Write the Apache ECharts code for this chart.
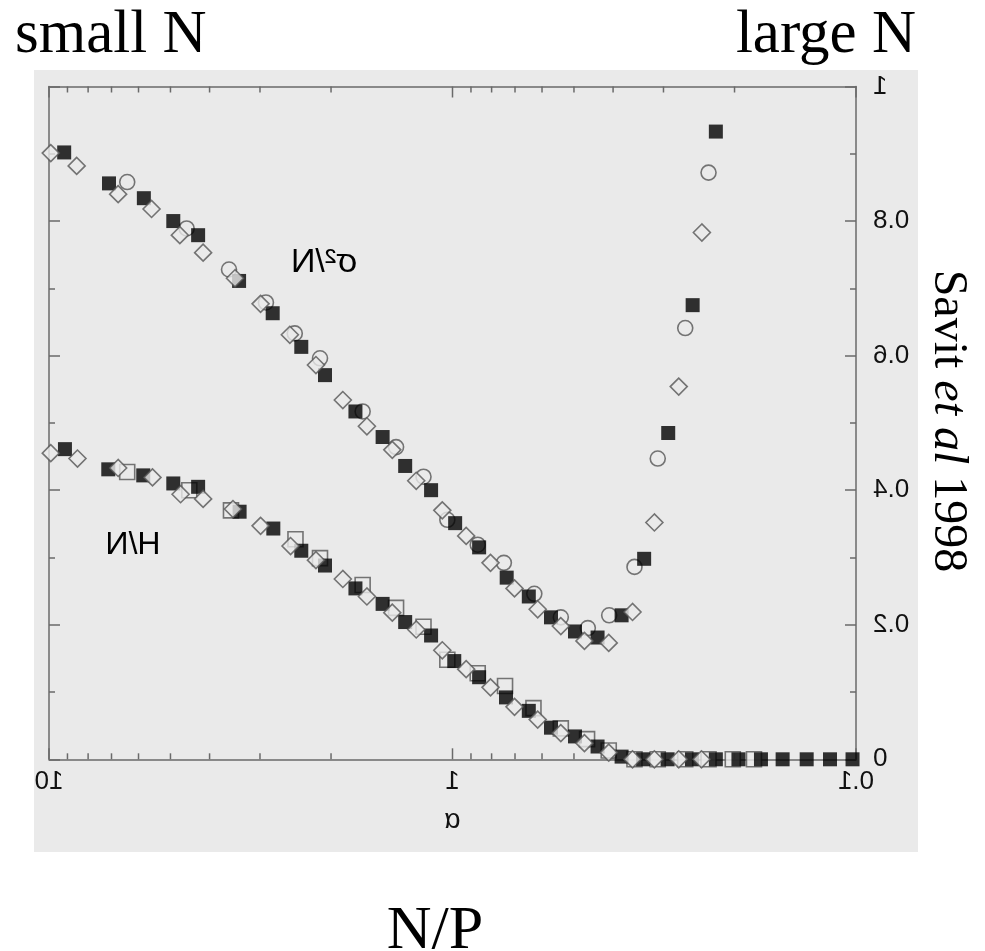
<!DOCTYPE html>
<html>
<head>
<meta charset="utf-8">
<script src="https://cdn.jsdelivr.net/npm/echarts@6/dist/echarts.min.js"></script>
<style>
  html, body { margin: 0; padding: 0; background: #ffffff; }
  #wrap { position: relative; width: 985px; height: 951px; overflow: hidden; }
  /* the plot panel is shown as a left-right mirror image */
  #plot { position: absolute; left: 0; top: 0; width: 985px; height: 951px; transform: scaleX(-1); }
  #notes { position: absolute; left: 0; top: 0; width: 985px; height: 951px; pointer-events: none; }
</style>
</head>
<body>
<div id="wrap">
  <div id="plot"></div>
  <div id="notes"></div>
</div>
<script>
// alpha = 2^m / N, three simulation sets per quantity

// sigma^2 / N : filled squares
const sigmaFilledAlpha = [9.17, 7.10, 5.82, 4.92, 4.27, 3.38, 2.79, 2.37, 2.07, 1.74, 1.49, 1.31, 1.13, 0.985, 0.859, 0.734, 0.647, 0.570, 0.497, 0.437, 0.381, 0.335, 0.292, 0.254, 0.2225];
const sigmaFilledVal   = [0.902, 0.856, 0.834, 0.800, 0.779, 0.711, 0.663, 0.613, 0.571, 0.517, 0.479, 0.436, 0.400, 0.351, 0.315, 0.270, 0.242, 0.211, 0.190, 0.181, 0.214, 0.298, 0.485, 0.675, 0.933];

// sigma^2 / N : open circles
const sigmaCircleAlpha = [6.40, 4.56, 3.58, 2.90, 2.46, 2.13, 1.67, 1.38, 1.18, 1.03, 0.866, 0.746, 0.627, 0.539, 0.462, 0.409, 0.354, 0.310, 0.265, 0.232];
const sigmaCircleVal   = [0.858, 0.789, 0.728, 0.679, 0.633, 0.596, 0.517, 0.464, 0.420, 0.356, 0.319, 0.292, 0.246, 0.211, 0.195, 0.214, 0.286, 0.447, 0.641, 0.872];

// sigma^2 / N : open diamonds
const sigmaDiamondAlpha = [9.9, 8.54, 6.74, 5.57, 4.74, 4.15, 3.46, 2.99, 2.53, 2.18, 1.87, 1.63, 1.41, 1.23, 1.06, 0.925, 0.805, 0.702, 0.615, 0.539, 0.471, 0.410, 0.358, 0.316, 0.275, 0.241];
const sigmaDiamondVal   = [0.901, 0.882, 0.840, 0.818, 0.779, 0.753, 0.715, 0.677, 0.631, 0.586, 0.534, 0.495, 0.460, 0.414, 0.370, 0.332, 0.292, 0.254, 0.223, 0.198, 0.176, 0.173, 0.219, 0.352, 0.554, 0.783];

// H / N : filled squares
const hFilledAlpha = [9.13, 7.13, 5.84, 4.92, 4.27, 3.37, 2.78, 2.37, 2.07, 1.74, 1.49, 1.31, 1.13, 0.99, 0.859, 0.737, 0.647, 0.570, 0.497, 0.437, 0.381, 0.337, 0.293, 0.255, 0.2225, 0.1956, 0.172, 0.152, 0.1325, 0.116, 0.102];
const hFilledVal   = [0.461, 0.431, 0.422, 0.410, 0.405, 0.368, 0.343, 0.310, 0.288, 0.254, 0.231, 0.204, 0.184, 0.146, 0.122, 0.092, 0.072, 0.047, 0.034, 0.019, 0.004, 0, 0, 0, 0, 0, 0, 0, 0, 0, 0];

// H / N : open squares
const hOpenAlpha = [6.40, 4.49, 3.54, 2.45, 2.13, 1.67, 1.38, 1.18, 1.03, 0.866, 0.741, 0.630, 0.539, 0.464, 0.410, 0.354, 0.310, 0.265, 0.232, 0.202, 0.179];
const hOpenVal   = [0.427, 0.400, 0.370, 0.327, 0.299, 0.259, 0.225, 0.197, 0.148, 0.128, 0.109, 0.076, 0.046, 0.030, 0.013, 0, 0, 0, 0, 0, 0];

// H / N : open diamonds
const hDiamondAlpha = [9.9, 8.5, 6.74, 5.54, 4.72, 4.15, 3.50, 2.99, 2.52, 2.18, 1.87, 1.63, 1.41, 1.23, 1.06, 0.925, 0.805, 0.702, 0.615, 0.539, 0.471, 0.410, 0.358, 0.316, 0.275, 0.2415];
const hDiamondVal   = [0.455, 0.447, 0.433, 0.419, 0.394, 0.387, 0.372, 0.347, 0.317, 0.296, 0.268, 0.242, 0.218, 0.193, 0.162, 0.134, 0.107, 0.078, 0.059, 0.039, 0.024, 0.010, 0, 0, 0, 0];

// log-axis tick positions
const xMajorTicks = [0.1, 1, 10];
const xMinorTicks = [0.2, 0.3, 0.4, 0.5, 0.6, 0.7, 0.8, 0.9, 2, 3, 4, 5, 6, 7, 8, 9];

// citation, split into upright / italic runs
const citeParts = [['Savit ', false], ['et al', true], [' 1998', false]];

const pairs = (xs, ys) => xs.map((x, i) => [x, ys[i]]);

const AXIS = '#6a6a6a';
const PANEL = '#eaeaea';
const SANS = '"Liberation Sans", Arial, Helvetica, sans-serif';
const SERIF = '"Liberation Serif", "Times New Roman", serif';

function tickSeries(values, len) {
  return {
    type: 'custom',
    xAxisIndex: 0, yAxisIndex: 0,
    silent: true, clip: false, z: 1,
    data: values.map(v => [v]),
    renderItem: (params, api) => {
      const x = api.value(0);
      const b = api.coord([x, 0]);
      const t = api.coord([x, 1]);
      const st = { stroke: AXIS, lineWidth: 1.5 };
      return {
        type: 'group',
        children: [
          { type: 'line', shape: { x1: b[0], y1: b[1], x2: b[0], y2: b[1] - len }, style: st },
          { type: 'line', shape: { x1: t[0], y1: t[1], x2: t[0], y2: t[1] + len }, style: st }
        ]
      };
    }
  };
}

function openMarker(name, data, symbol, size, z) {
  return {
    name, type: 'scatter', data, symbol, symbolSize: size, z,
    itemStyle: { color: PANEL, borderColor: '#555555', borderWidth: 1.6 },
    emphasis: { disabled: true }
  };
}
function filledMarker(name, data, z) {
  return {
    name, type: 'scatter', data, symbol: 'rect', symbolSize: 14, z,
    itemStyle: { color: '#000000' },
    emphasis: { disabled: true }
  };
}

const plot = echarts.init(document.getElementById('plot'), null, { renderer: 'canvas' });
const yCommon = {
  type: 'value', min: 0, max: 1, interval: 0.2,
  splitLine: { show: false },
  axisLine: { show: true, lineStyle: { color: AXIS, width: 1.5 } },
  axisTick: { show: true, inside: true, length: 11, lineStyle: { color: AXIS, width: 1.5 } },
  minorTick: { show: true, splitNumber: 2, length: 6, lineStyle: { color: AXIS, width: 1.5 } },
  minorSplitLine: { show: false }
};
plot.setOption({
  backgroundColor: 'transparent',
  animation: false,
  graphic: [
    { type: 'rect', z: -10, silent: true, shape: { x: 67, y: 70, width: 884, height: 782 }, style: { fill: PANEL } },
    { type: 'text', z: 10, x: 661, y: 263, silent: true,
      style: { text: 'σ²/N', font: '34px ' + SANS, fill: '#000', align: 'center', verticalAlign: 'middle' } },
    { type: 'text', z: 10, x: 852, y: 545, silent: true,
      style: { text: 'H/N', font: '32px ' + SANS, fill: '#000', align: 'center', verticalAlign: 'middle' } }
  ],
  grid: { left: 129, right: 49, top: 86.5, bottom: 191.7, containLabel: false, outerBoundsMode: 'none' },
  xAxis: [
    {
      type: 'log', logBase: 10, min: 0.1, max: 10, position: 'bottom',
      name: 'α', nameLocation: 'middle', nameGap: 47,
      nameTextStyle: { fontFamily: SANS, fontSize: 28, color: '#111' },
      splitLine: { show: false },
      axisLine: { show: true, onZero: false, lineStyle: { color: AXIS, width: 1.5 } },
      axisTick: { show: false },
      minorTick: { show: false },
      axisLabel: { show: true, margin: 10, fontFamily: SANS, fontSize: 26, color: '#111', showMinLabel: true, showMaxLabel: true }
    },
    {
      type: 'log', logBase: 10, min: 0.1, max: 10, position: 'top',
      splitLine: { show: false },
      axisLine: { show: true, onZero: false, lineStyle: { color: AXIS, width: 1.5 } },
      axisTick: { show: false },
      axisLabel: { show: false }
    }
  ],
  yAxis: [
    Object.assign({}, yCommon, {
      position: 'left',
      axisLabel: { show: true, margin: 17, fontFamily: SANS, fontSize: 26, color: '#111', showMinLabel: true, showMaxLabel: true }
    }),
    Object.assign({}, yCommon, { position: 'right', axisLabel: { show: false } })
  ],
  series: [
    tickSeries(xMajorTicks, 11),
    tickSeries(xMinorTicks, 6),
    openMarker('sigma circles', pairs(sigmaCircleAlpha, sigmaCircleVal), 'circle', 15, 3),
    openMarker('H open squares', pairs(hOpenAlpha, hOpenVal), 'rect', 15, 3),
    filledMarker('sigma filled', pairs(sigmaFilledAlpha, sigmaFilledVal), 4),
    filledMarker('H filled', pairs(hFilledAlpha, hFilledVal), 4),
    openMarker('sigma diamonds', pairs(sigmaDiamondAlpha, sigmaDiamondVal), 'diamond', 17, 5),
    openMarker('H diamonds', pairs(hDiamondAlpha, hDiamondVal), 'diamond', 17, 5)
  ]
});

// vertical citation: measure each run so the pieces sit end to end
const measureCtx = document.createElement('canvas').getContext('2d');
const citeFont = italic => (italic ? 'italic ' : '') + '48px ' + SERIF;
const citeWidths = citeParts.map(([t, it]) => { measureCtx.font = citeFont(it); return measureCtx.measureText(t).width; });
const citeTotal = citeWidths.reduce((a, b) => a + b, 0);
const citeCenterY = 421;
let citeY = citeCenterY - citeTotal / 2;
const citeGraphics = citeParts.map(([t, it], i) => {
  const g = { type: 'text', x: 948, y: citeY, rotation: -Math.PI / 2,
    style: { text: t, font: citeFont(it), fill: '#000', align: 'left', verticalAlign: 'middle' } };
  citeY += citeWidths[i];
  return g;
});

// captions around the panel
const notes = echarts.init(document.getElementById('notes'), null, { renderer: 'canvas' });
notes.setOption({
  backgroundColor: 'transparent',
  animation: false,
  graphic: [
    { type: 'text', x: 15, y: 36, style: { text: 'small N', font: '61px ' + SERIF, fill: '#000', align: 'left', verticalAlign: 'middle' } },
    { type: 'text', x: 916, y: 36, style: { text: 'large N', font: '61px ' + SERIF, fill: '#000', align: 'right', verticalAlign: 'middle' } },
    { type: 'text', x: 435, y: 932, style: { text: 'N/P', font: '62px ' + SERIF, fill: '#000', align: 'center', verticalAlign: 'middle' } }
  ].concat(citeGraphics)
});
</script>
</body>
</html>
